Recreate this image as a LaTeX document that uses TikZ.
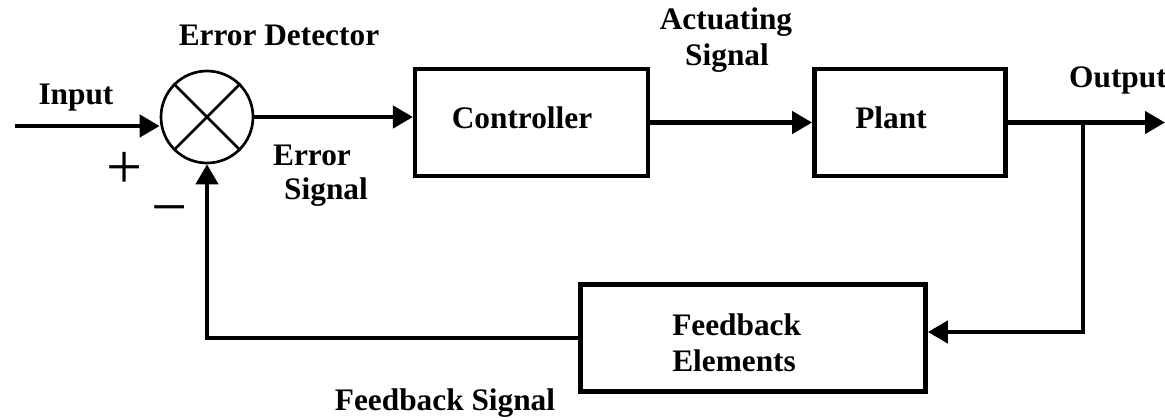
\documentclass[tikz,border=0pt]{standalone}
\usepackage{fontspec}
\setmainfont{Liberation Serif}
\usetikzlibrary{arrows.meta,calc}
\begin{document}
\begin{tikzpicture}[x=0.75pt,y=-0.75pt,
  lbl/.style={font=\bfseries\fontsize{23.5}{25}\selectfont, inner sep=0pt},
  sign/.style={font=\fontsize{48}{48}\selectfont, inner sep=0pt},
  blk/.style={draw, line width=3.3pt, inner sep=0pt},
  arr/.style={line width=3.3pt, -{Triangle[length=15pt,width=16.5pt]}},
  ln/.style={line width=3.3pt}]
\fill[white] (0,0) rectangle (1165,419);
\useasboundingbox (0,0) rectangle (1165,419);

% summing junction
\node[draw, circle, line width=2pt, minimum size=69pt, inner sep=0pt] (sum) at (207,117) {};
\draw[line width=2pt] (sum.45) -- (sum.225) (sum.135) -- (sum.-45);

% blocks
\node[blk, minimum width=174.5pt, minimum height=80pt] (ctrl) at (531.5,122.5) {};
\node[blk, minimum width=143.5pt, minimum height=80pt] (plant) at (910,122.5) {};
\node[blk, minimum width=259pt, minimum height=80.5pt] (fb) at (753,338) {};

% coordinates
\coordinate (in) at (15,126);
\coordinate (out) at (1165,122.5);
\coordinate (br) at (1083,122.5);

% connectors
\draw[arr] (in) -- (in -| sum.west);
\draw[arr] (sum.east) -- (sum.east -| ctrl.west);
\draw[arr] (ctrl.east) -- (plant.west);
\draw[arr] (plant.east) -- (out);
\draw[arr] (br) |- ([yshift=4.5pt]fb.east);
\draw[arr] (fb.west) -| (sum.south);

% texts
\node[lbl] (tin) at (76,98) {Input};
\node[lbl] (tdet) at (279,35) {Error Detector};
\node[lbl] (terr1) at (312,155) {Error};
\node[lbl] (terr2) at (326,192) {Signal};
\node[lbl] (tctrl) at (522,118) {Controller};
\node[lbl] (tact1) at (726,22) {Actuating};
\node[lbl] (tact2) at (727,58) {Signal};
\node[lbl] (tplant) at (891,118) {Plant};
\node[lbl] (tout) at (1118,80) {Output};
\node[lbl, anchor=west] (tfb1) at (672,325) {Feedback};
\node[lbl, anchor=west] (tfb2) at (672,361) {Elements};
\node[lbl] (tfbs) at (445,403) {Feedback Signal};
\node[sign] (tplus) at (125,170) {+};
\node[sign] (tminus) at (170,217) {−};
\end{tikzpicture}
\end{document}
